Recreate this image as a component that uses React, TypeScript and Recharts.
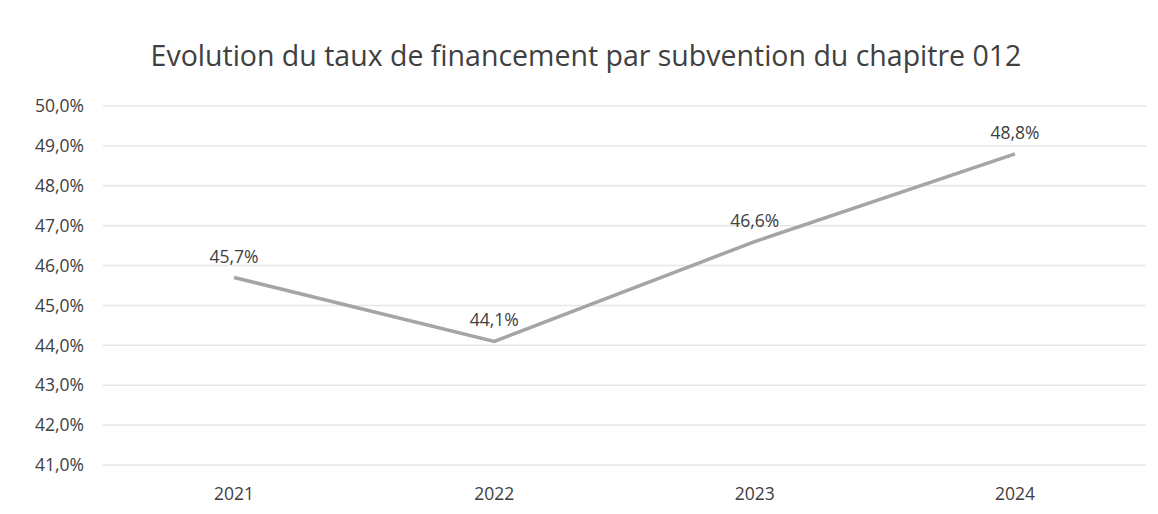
import React from 'react';
import { LineChart, Line, XAxis, YAxis, CartesianGrid, LabelList } from 'recharts';

const years = ['2021', '2022', '2023', '2024'];
const rates = [45.7, 44.1, 46.6, 48.8];
const yTicks = [41, 42, 43, 44, 45, 46, 47, 48, 49, 50];

const data = years.map((year, i) => ({ year, rate: rates[i] }));

const pct = (v: number) => `${v.toFixed(1).replace('.', ',')}%`;

const FONT = '"Open Sans", sans-serif';
const TEXT = '#404040';

export default function App() {
  return (
    <div style={{ position: 'absolute', left: 0, top: 0, width: 1158, height: 514, background: '#fff' }}>
      <div
        style={{
          position: 'absolute',
          left: 0,
          width: 1172,
          top: 36,
          textAlign: 'center',
          fontFamily: FONT,
          fontSize: 28.5,
          color: TEXT,
          lineHeight: '38px',
        }}
      >
        Evolution du taux de financement par subvention du chapitre 012
      </div>
      <LineChart width={1158} height={514} data={data} margin={{ top: 106, right: 12, left: 0, bottom: 19 }}>
        <CartesianGrid vertical={false} stroke="#e6e6e6" strokeWidth={1.5} />
        <XAxis
          dataKey="year"
          axisLine={false}
          tickLine={false}
          height={30}
          tickMargin={17}
          padding={{ left: 131, right: 131 }}
          tick={{ fill: TEXT, fontSize: 17.5, fontFamily: FONT }}
        />
        <YAxis
          width={103}
          domain={[41, 50]}
          ticks={yTicks}
          interval={0}
          axisLine={false}
          tickLine={false}
          tickMargin={13}
          tickFormatter={pct}
          tick={{ fill: TEXT, fontSize: 17.5, fontFamily: FONT }}
        />
        <Line
          type="linear"
          dataKey="rate"
          stroke="#a5a5a5"
          strokeWidth={3.5}
          dot={false}
          isAnimationActive={false}
        >
          <LabelList
            dataKey="rate"
            position="top"
            offset={15}
            formatter={(v: number) => pct(v)}
            style={{ fill: TEXT, fontSize: 17.5, fontFamily: FONT }}
          />
        </Line>
      </LineChart>
    </div>
  );
}
